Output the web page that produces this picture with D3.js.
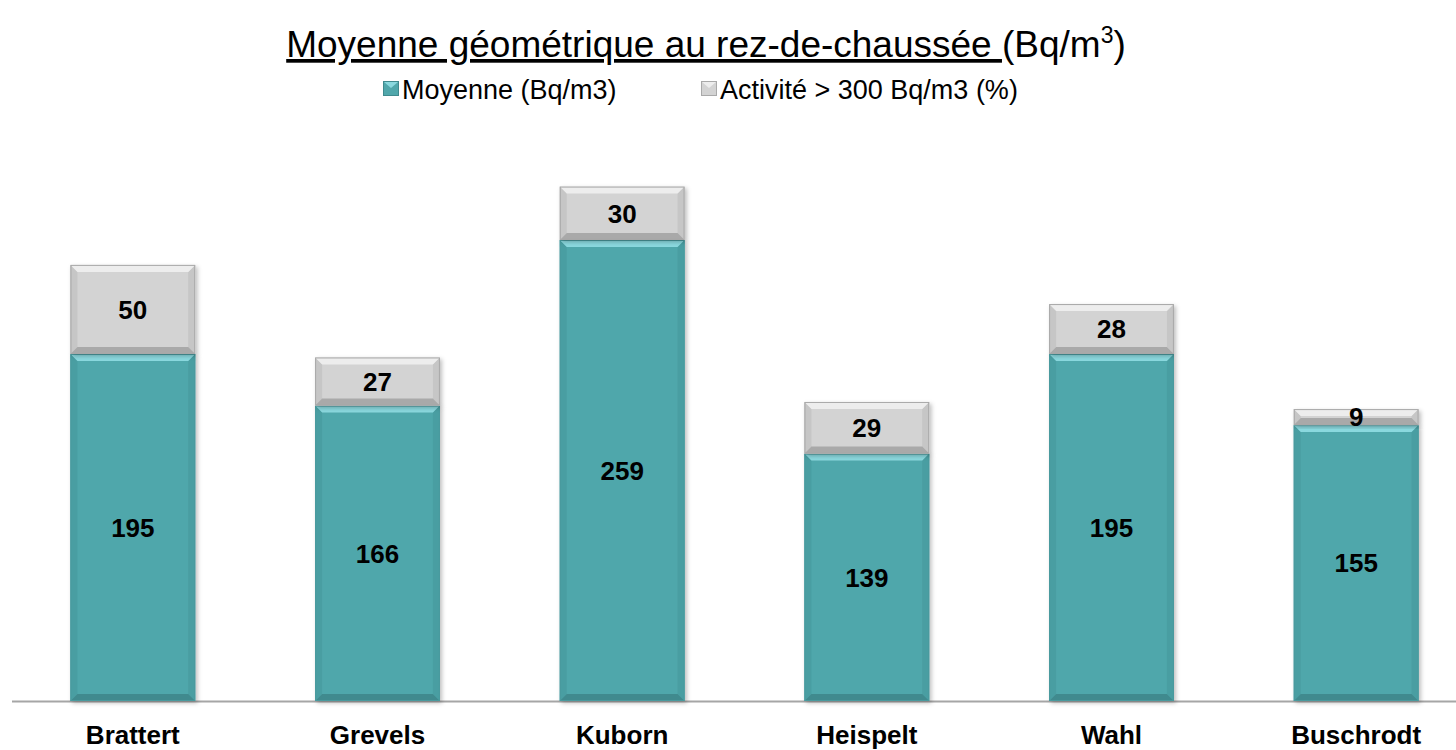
<!DOCTYPE html>
<html>
<head>
<meta charset="utf-8">
<script src="https://cdn.jsdelivr.net/npm/d3@7"></script>
<style>
  body { margin: 0; background: #fff; }
  svg { font-family: "Liberation Sans", Arial, sans-serif; }
</style>
</head>
<body>
<script>
const categories = ["Brattert", "Grevels", "Kuborn", "Heispelt", "Wahl", "Buschrodt"];
const moyenne = [195, 166, 259, 139, 195, 155];
const activite = [50, 27, 30, 29, 28, 9];
const seriesNames = ["Moyenne (Bq/m3)", "Activité > 300 Bq/m3 (%)"];

const W = 1456, H = 750;
const baseY = 701;

const svg = d3.select("body").append("svg")
    .attr("width", W)
    .attr("height", H);

const x = d3.scaleBand()
    .domain(categories)
    .range([10.5, 1478.5])
    .paddingInner(0.49)
    .paddingOuter(0.245);

const y = d3.scaleLinear()
    .domain([0, 300])
    .range([baseY, baseY - 534]);

const styles = [
  { base: "#50a7ab", top: "#8ad8de", side: "#4a9ea2", bottom: "#3f8a8e", stroke: "#4a9a9e" },
  { base: "#d3d3d3", top: "#ededed", side: "#c6c6c6", bottom: "#a9a9a9", stroke: "#a8a8a8" }
];

// stacked data
const stacked = categories.map((c, i) => [
  { cat: c, s: 0, y0: 0, y1: moyenne[i], v: moyenne[i] },
  { cat: c, s: 1, y0: moyenne[i], y1: moyenne[i] + activite[i], v: activite[i] }
]).flat();

// axis line
svg.append("line")
    .attr("x1", 12).attr("x2", W)
    .attr("y1", baseY + 0.5).attr("y2", baseY + 0.5)
    .attr("stroke", "#a6a6a6")
    .attr("stroke-width", 2);

const defs = svg.append("defs");
defs.append("filter").attr("id", "shadow")
    .attr("x", "-10%").attr("y", "-10%").attr("width", "130%").attr("height", "130%")
  .append("feDropShadow")
    .attr("dx", 2).attr("dy", 2).attr("stdDeviation", 2)
    .attr("flood-color", "#000").attr("flood-opacity", 0.25);

const segs = svg.append("g").selectAll("g.seg")
    .data(stacked)
  .enter().append("g")
    .attr("class", "seg")
    .attr("filter", "url(#shadow)");

segs.each(function(d) {
  const g = d3.select(this);
  const st = styles[d.s];
  const x0 = x(d.cat), x1 = x(d.cat) + x.bandwidth();
  const yt = y(d.y1), yb = y(d.y0);
  const b = Math.min(7, (yb - yt) / 2);
  const poly = pts => pts.map(p => p.join(",")).join(" ");
  g.append("rect")
      .attr("x", x0).attr("y", yt)
      .attr("width", x1 - x0).attr("height", yb - yt)
      .attr("fill", st.base);
  g.append("polygon")
      .attr("points", poly([[x0, yt], [x0 + b, yt + b], [x0 + b, yb - b], [x0, yb]]))
      .attr("fill", st.side);
  g.append("polygon")
      .attr("points", poly([[x1, yt], [x1 - b, yt + b], [x1 - b, yb - b], [x1, yb]]))
      .attr("fill", st.side);
  g.append("polygon")
      .attr("points", poly([[x0, yb], [x1, yb], [x1 - b, yb - b], [x0 + b, yb - b]]))
      .attr("fill", st.bottom);
  g.append("polygon")
      .attr("points", poly([[x0, yt], [x1, yt], [x1 - b, yt + b], [x0 + b, yt + b]]))
      .attr("fill", st.top);
  g.append("rect")
      .attr("x", x0 + 0.5).attr("y", yt + 0.5)
      .attr("width", x1 - x0 - 1).attr("height", yb - yt - 1)
      .attr("fill", "none")
      .attr("stroke", st.stroke)
      .attr("stroke-width", 1);
});

// value labels
svg.append("g").selectAll("text")
    .data(stacked)
  .enter().append("text")
    .attr("x", d => x(d.cat) + x.bandwidth() / 2)
    .attr("y", d => (y(d.y0) + y(d.y1)) / 2)
    .attr("dy", "0.36em")
    .attr("text-anchor", "middle")
    .attr("font-size", 26)
    .attr("font-weight", "bold")
    .attr("fill", "#000")
    .text(d => d.v);

// category labels
svg.append("g").selectAll("text")
    .data(categories)
  .enter().append("text")
    .attr("x", d => x(d) + x.bandwidth() / 2)
    .attr("y", 744)
    .attr("text-anchor", "middle")
    .attr("font-size", 26)
    .attr("font-weight", "bold")
    .attr("fill", "#000")
    .text(d => d);

// title
const title = svg.append("text")
    .attr("x", 706)
    .attr("y", 57)
    .attr("text-anchor", "middle")
    .attr("font-size", 37)
    .attr("fill", "#000");
title.append("tspan")
    .attr("text-decoration", "underline")
    .text("Moyenne géométrique au rez-de-chaussée ");
title.append("tspan").text("(Bq/m");
title.append("tspan").attr("font-size", 23).attr("dy", -14).text("3");
title.append("tspan").attr("dy", 14).text(")");

// legend
const legend = svg.append("g");
const legendX = [383, 701];
seriesNames.forEach((name, i) => {
  const g = legend.append("g").attr("transform", "translate(" + legendX[i] + ",0)");
  g.append("rect")
      .attr("x", 0.5).attr("y", 81.5)
      .attr("width", 15).attr("height", 14)
      .attr("fill", styles[i].base)
      .attr("stroke", styles[i].bottom)
      .attr("stroke-width", 1);
  g.append("polygon")
      .attr("points", "1,82 15,82 8,88")
      .attr("fill", styles[i].top);
  g.append("text")
      .attr("x", 19)
      .attr("y", 99)
      .attr("font-size", 27)
      .attr("fill", "#000")
      .text(name);
});
</script>
</body>
</html>
